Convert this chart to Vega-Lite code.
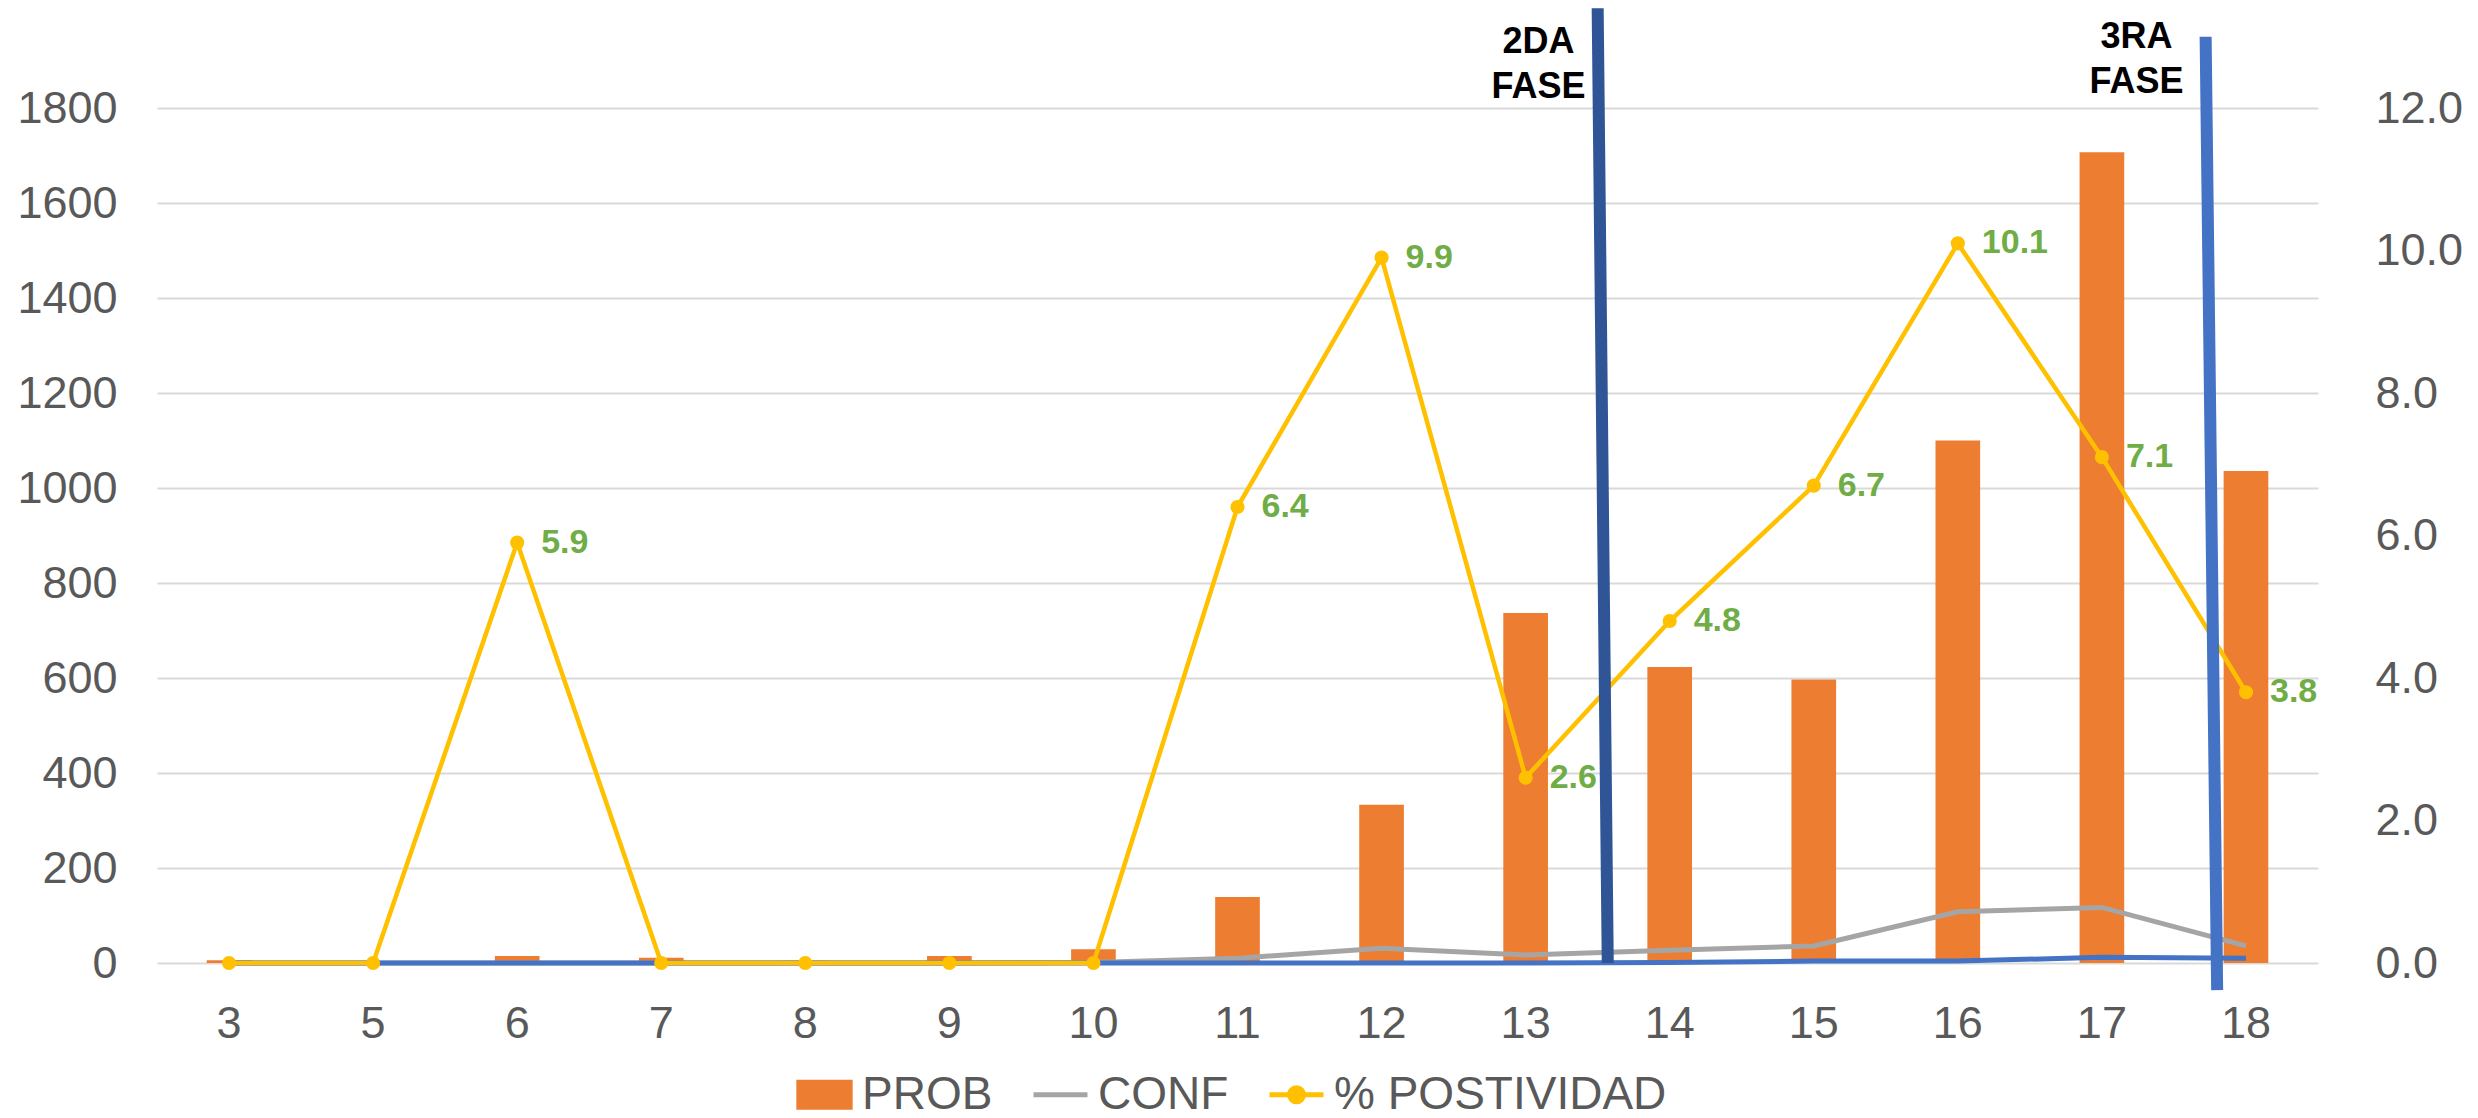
{
  "$schema": "https://vega.github.io/schema/vega-lite/v6.json",
  "autosize": "none",
  "width": 2161,
  "height": 855,
  "padding": {"left": 157, "top": 108, "right": 160, "bottom": 155},
  "background": "white",
  "config": {
    "view": {"stroke": null},
    "font": "Liberation Sans",
    "axis": {
      "labelFont": "Liberation Sans",
      "labelFontSize": 45,
      "labelColor": "#595959",
      "domain": false,
      "ticks": false,
      "tickSize": 0,
      "grid": false,
      "title": null
    },
    "legend": {
      "labelFont": "Liberation Sans",
      "labelFontSize": 46,
      "labelColor": "#595959",
      "labelLimit": 0
    }
  },
  "datasets": {
    "semanas": [
      {"semana": 3, "PROB": 6, "CONF": 0, "FALL": 0, "POS": 0},
      {"semana": 5, "PROB": 2, "CONF": 0, "FALL": 0, "POS": 0},
      {"semana": 6, "PROB": 15, "CONF": 0, "FALL": 0, "POS": 5.9},
      {"semana": 7, "PROB": 11, "CONF": 0, "FALL": 0, "POS": 0},
      {"semana": 8, "PROB": 5, "CONF": 0, "FALL": 0, "POS": 0},
      {"semana": 9, "PROB": 15, "CONF": 0, "FALL": 0, "POS": 0},
      {"semana": 10, "PROB": 29, "CONF": 1, "FALL": 0, "POS": 0},
      {"semana": 11, "PROB": 139, "CONF": 10, "FALL": 0, "POS": 6.4},
      {"semana": 12, "PROB": 333, "CONF": 31, "FALL": 0, "POS": 9.9},
      {"semana": 13, "PROB": 737, "CONF": 17, "FALL": 0, "POS": 2.6},
      {"semana": 14, "PROB": 623, "CONF": 27, "FALL": 1, "POS": 4.8},
      {"semana": 15, "PROB": 597, "CONF": 36, "FALL": 4, "POS": 6.7},
      {"semana": 16, "PROB": 1100, "CONF": 108, "FALL": 4, "POS": 10.1},
      {"semana": 17, "PROB": 1707, "CONF": 117, "FALL": 12, "POS": 7.1},
      {"semana": 18, "PROB": 1036, "CONF": 36, "FALL": 10, "POS": 3.8}
    ],
    "fases": [
      {"fase": "2DA", "label": "2DA\nFASE", "x": 10.0, "x2": 10.07, "y": 2010, "y2": 0, "lx": 9.59, "ly": 1938},
      {"fase": "3RA", "label": "3RA\nFASE", "x": 14.22, "x2": 14.30, "y": 1950, "y2": -57, "lx": 13.74, "ly": 1949}
    ]
  },
  "layer": [
    {
      "data": {"name": "semanas"},
      "encoding": {
        "x": {
          "field": "semana",
          "type": "ordinal",
          "scale": {"type": "band", "paddingInner": 0.69, "paddingOuter": 0.345},
          "axis": {"labelAngle": 0, "labelPadding": 38}
        }
      },
      "layer": [
        {
          "mark": {"type": "bar"},
          "encoding": {
            "y": {
              "field": "PROB",
              "type": "quantitative",
              "scale": {"domain": [0, 1800], "nice": false},
              "axis": {
                "orient": "left",
                "values": [0, 200, 400, 600, 800, 1000, 1200, 1400, 1600, 1800],
                "format": "d",
                "grid": true,
                "gridColor": "#D9D9D9",
                "gridWidth": 2,
                "labelPadding": 40
              }
            },
            "color": {
              "datum": "PROB",
              "type": "nominal",
              "scale": {
                "domain": ["PROB", "CONF", "% POSTIVIDAD"],
                "range": ["#ED7D31", "#A5A5A5", "#FFC000"]
              },
              "legend": {
                "title": null,
                "orient": "none",
                "direction": "horizontal",
                "legendX": 638,
                "legendY": 957,
                "symbolSize": 2916,
                "symbolStrokeWidth": 5,
                "columnPadding": 30,
                "labelOffset": 8,
                "labelLimit": 0,
                "encode": {
                  "symbols": {
                    "update": {
                      "shape": {"signal": "datum.value === 'PROB' ? 'M-0.95,-0.46H0.95V0.46H-0.95Z' : datum.value === 'CONF' ? 'M-1,0H1' : 'M-1,0H1M0.26,0A0.26,0.26 0 1 1 -0.26,0A0.26,0.26 0 1 1 0.26,0Z'"},
                      "fill": {"signal": "datum.value === 'PROB' ? '#ED7D31' : datum.value === 'CONF' ? 'transparent' : '#FFC000'"},
                      "stroke": {"signal": "datum.value === 'PROB' ? 'transparent' : datum.value === 'CONF' ? '#A5A5A5' : '#FFC000'"},
                      "strokeWidth": {"value": 5},
                      "opacity": {"value": 1},
                      "fillOpacity": {"value": 1},
                      "strokeOpacity": {"value": 1}
                    }
                  }
                }
              }
            }
          }
        },
        {
          "mark": {"type": "line", "strokeWidth": 5},
          "encoding": {
            "y": {"field": "CONF", "type": "quantitative"},
            "color": {"datum": "CONF", "type": "nominal"}
          }
        },
        {
          "mark": {"type": "line", "strokeWidth": 5, "color": "#4472C4"},
          "encoding": {
            "y": {"field": "FALL", "type": "quantitative"}
          }
        }
      ]
    },
    {
      "data": {"name": "semanas"},
      "encoding": {
        "x": {
          "field": "semana",
          "type": "ordinal",
          "scale": {"type": "band", "paddingInner": 0.69, "paddingOuter": 0.345},
          "axis": null
        },
        "y": {
          "field": "POS",
          "type": "quantitative",
          "scale": {"domain": [0, 12], "nice": false},
          "axis": {
            "orient": "right",
            "values": [0, 2, 4, 6, 8, 10, 12],
            "format": ".1f",
            "labelPadding": 57
          }
        }
      },
      "layer": [
        {
          "mark": {"type": "line", "strokeWidth": 4.5, "point": {"filled": true, "size": 200}},
          "encoding": {
            "color": {"datum": "% POSTIVIDAD", "type": "nominal"}
          }
        },
        {
          "transform": [{"filter": "datum.POS > 0"}],
          "mark": {"type": "text", "align": "left", "baseline": "middle", "dx": 24, "fontSize": 34, "fontWeight": "bold", "color": "#70AD47", "font": "Liberation Sans"},
          "encoding": {
            "text": {"field": "POS", "type": "quantitative", "format": ".1f"}
          }
        }
      ]
    },
    {
      "data": {"name": "fases"},
      "layer": [
        {
          "mark": {"type": "rule", "strokeWidth": 12},
          "encoding": {
            "x": {"field": "x", "type": "quantitative", "scale": {"domain": [0, 15], "nice": false, "zero": false}, "axis": null},
            "x2": {"field": "x2"},
            "y": {"field": "y", "type": "quantitative", "scale": {"domain": [0, 1800], "nice": false}, "axis": null},
            "y2": {"field": "y2"},
            "stroke": {"field": "fase", "type": "nominal", "scale": {"domain": ["2DA", "3RA"], "range": ["#2F5597", "#4472C4"]}, "legend": null}
          }
        },
        {
          "mark": {"type": "text", "align": "center", "baseline": "middle", "fontSize": 36, "fontWeight": "bold", "color": "#000000", "lineBreak": "\n", "lineHeight": 45, "font": "Liberation Sans"},
          "encoding": {
            "x": {"field": "lx", "type": "quantitative"},
            "y": {"field": "ly", "type": "quantitative"},
            "text": {"field": "label", "type": "nominal"}
          }
        }
      ]
    }
  ],
  "resolve": {"scale": {"x": "independent", "y": "independent"}}
}
